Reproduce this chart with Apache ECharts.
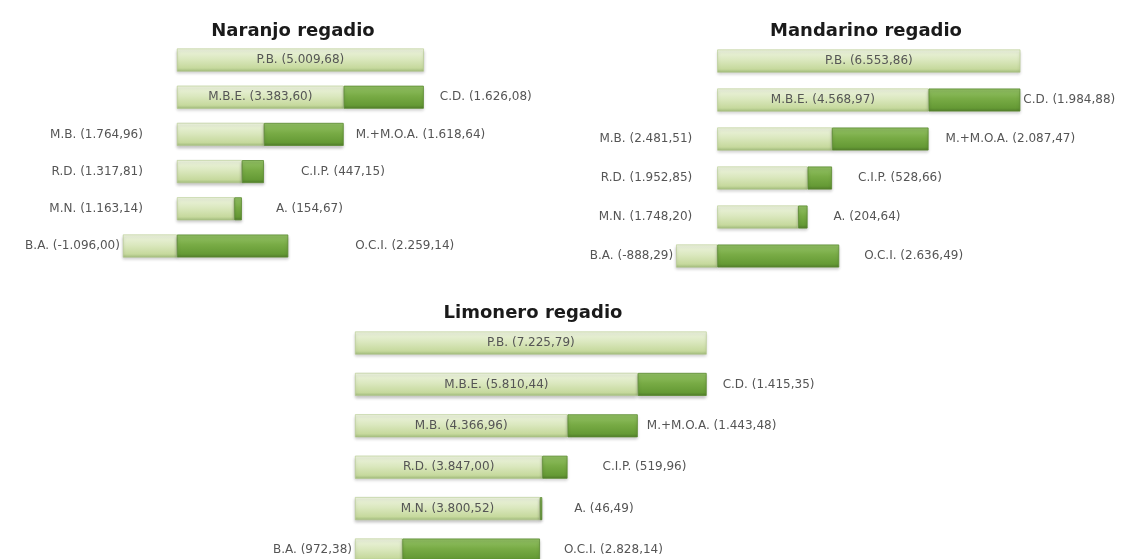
<!DOCTYPE html>
<html>
<head>
<meta charset="utf-8">
<script src="https://cdn.jsdelivr.net/npm/echarts@6/dist/echarts.min.js"></script>
<style>
  html, body { margin: 0; padding: 0; background: #fff; }
  #main { width: 1131px; height: 559px; }
</style>
</head>
<body>
<div id="main"></div>
<script>
// filas de la cascada (de arriba abajo)
var rowNames = ['P.B.', 'M.B.E.', 'M.B.', 'R.D.', 'M.N.', 'B.A.'];
var stepNames = ['', 'C.D.', 'M.+M.O.A.', 'C.I.P.', 'A.', 'O.C.I.'];

var naranjoRest = [5009.68, 3383.60, 1764.96, 1317.81, 1163.14, -1096.00];
var naranjoStep = [null, 1626.08, 1618.64, 447.15, 154.67, 2259.14];

var mandarinoRest = [6553.86, 4568.97, 2481.51, 1952.85, 1748.20, -888.29];
var mandarinoStep = [null, 1984.88, 2087.47, 528.66, 204.64, 2636.49];

var limoneroRest = [7225.79, 5810.44, 4366.96, 3847.00, 3800.52, 972.38];
var limoneroStep = [null, 1415.35, 1443.48, 519.96, 46.49, 2828.14];

var titles = ['Naranjo regadio', 'Mandarino regadio', 'Limonero regadio'];

// formato español: 1.234,56
function fmt(v) {
  var neg = v < 0;
  var parts = Math.abs(v).toFixed(2).split('.');
  var ent = parts[0].replace(/\B(?=(\d{3})+(?!\d))/g, '.');
  return (neg ? '-' : '') + ent + ',' + parts[1];
}

var lightColor = new echarts.graphic.LinearGradient(0, 0, 0, 1, [
  {offset: 0, color: '#eef4e0'},
  {offset: 0.45, color: '#dbe8bf'},
  {offset: 0.85, color: '#c6d99d'},
  {offset: 1, color: '#9fb97a'}
]);
var darkColor = new echarts.graphic.LinearGradient(0, 0, 0, 1, [
  {offset: 0, color: '#94c266'},
  {offset: 0.45, color: '#78ab45'},
  {offset: 0.85, color: '#659a35'},
  {offset: 1, color: '#4f7a2a'}
]);

var labelFont = {color: '#555', fontSize: 12, fontFamily: 'DejaVu Sans'};

// disposicion de cada panel (top = centro de la 1a fila, height = hasta la ultima)
// leftGap: separacion de las etiquetas izquierdas, stepGap: separacion de las derechas
var panels = [
  {rest: naranjoRest, step: naranjoStep, top: 60, height: 186, left: 103, width: 345, min: -1500, max: 5500,
   inside: 2, leftGap: 34, stepGap: [0, 16, 12, 37, 34, 67], titleX: 288, titleY: 17},
  {rest: mandarinoRest, step: mandarinoStep, top: 61, height: 195, left: 671, width: 370, min: -1000, max: 7000,
   inside: 2, leftGap: 25, stepGap: [0, 3, 17, 26, 26, 25], titleX: 861, titleY: 17},
  {rest: limoneroRest, step: limoneroStep, top: 343, height: 207, left: 355, width: 365, min: 0, max: 7500,
   inside: 5, leftGap: 6, stepGap: [0, 16, 9, 35, 32, 24], titleX: 528, titleY: 299}
];

var grid = [], xAxis = [], yAxis = [], series = [], title = [];

panels.forEach(function (p, i) {
  grid.push({left: p.left, top: p.top, width: p.width, height: p.height});
  xAxis.push({type: 'value', gridIndex: i, min: p.min, max: p.max, show: false});
  yAxis.push({type: 'category', gridIndex: i, data: rowNames, inverse: true, boundaryGap: false, show: false});
  title.push({
    text: titles[i], left: p.titleX, top: p.titleY, textAlign: 'center',
    textStyle: {fontFamily: 'DejaVu Sans', fontWeight: 'bold', fontSize: 18, color: '#1a1a1a'}
  });

  var restData = p.rest.map(function (v, k) {
    var txt = rowNames[k] + ' (' + fmt(v) + ')';
    var inside = k < p.inside;
    return {
      value: v,
      label: {
        show: true,
        position: inside ? 'inside' : 'left',
        distance: (k === 5) ? 3 : p.leftGap,
        formatter: txt
      }
    };
  });
  var stepData = p.step.map(function (v, k) {
    if (v == null) return '-';
    return {
      value: v,
      label: {show: true, position: 'right', distance: p.stepGap[k], formatter: stepNames[k] + ' (' + fmt(v) + ')'}
    };
  });

  series.push({
    type: 'bar', xAxisIndex: i, yAxisIndex: i, stack: 'c' + i, clip: false,
    barWidth: 23, data: restData, silent: true,
    itemStyle: {color: lightColor, borderColor: '#b3c98c', borderWidth: 0.6,
      shadowColor: 'rgba(0,0,0,0.22)', shadowBlur: 3, shadowOffsetY: 2},
    label: labelFont
  });
  series.push({
    type: 'bar', xAxisIndex: i, yAxisIndex: i, stack: 'c' + i, clip: false,
    barWidth: 23, data: stepData, silent: true,
    itemStyle: {color: darkColor, borderColor: '#5a8a30', borderWidth: 0.8,
      shadowColor: 'rgba(0,0,0,0.22)', shadowBlur: 3, shadowOffsetY: 2},
    label: labelFont
  });
});

var myChart = echarts.init(document.getElementById('main'));
myChart.setOption({
  animation: false,
  backgroundColor: '#fff',
  title: title,
  grid: grid,
  xAxis: xAxis,
  yAxis: yAxis,
  series: series
});
</script>
</body>
</html>
